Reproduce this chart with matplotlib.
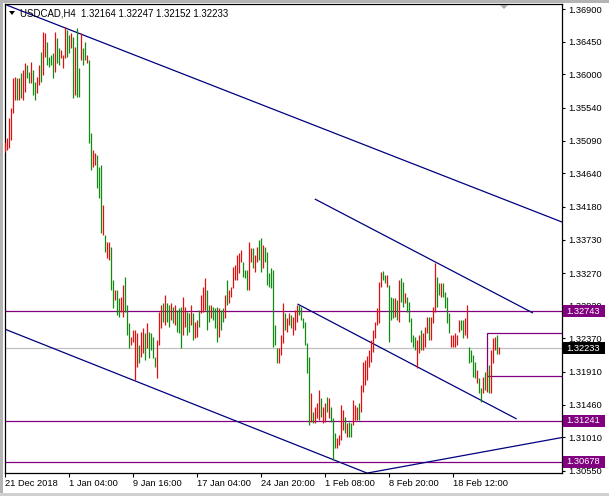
import matplotlib
matplotlib.use("Agg")
import matplotlib.pyplot as plt
from matplotlib.patches import Rectangle, Polygon
from matplotlib.transforms import blended_transform_factory

plt.rcParams['font.family'] = ['Liberation Sans', 'DejaVu Sans']

# ---------------- data ----------------
symbol = "USDCAD,H4"
last_ohlc = [1.32164, 1.32247, 1.32152, 1.32233]

highs = [
    1.35071, 1.35126, 1.35401, 1.35539, 1.35951, 1.35965, 1.35951, 1.35951, 1.36020, 1.36061,
    1.36158, 1.36130, 1.36034, 1.36171, 1.36061, 1.35896, 1.35965, 1.36130, 1.36309, 1.36584,
    1.36570, 1.36446, 1.36240, 1.36267, 1.36295, 1.36584, 1.36501, 1.36364, 1.36336, 1.36267,
    1.36652, 1.36611, 1.36542, 1.36570, 1.36515, 1.36377, 1.36639, 1.36089, 1.36570, 1.36364,
    1.36446, 1.36267, 1.36199, 1.35195, 1.34961, 1.34920, 1.34892, 1.34727, 1.34755, 1.34205,
    1.33793, 1.33696, 1.33696, 1.33628, 1.33174, 1.33036, 1.33036, 1.32926, 1.32940, 1.33105,
    1.33215, 1.32830, 1.32583, 1.32390, 1.32486, 1.32486, 1.32445, 1.32280, 1.32459, 1.32514,
    1.32445, 1.32583, 1.32459, 1.32445, 1.32390, 1.32115, 1.32349, 1.32734, 1.32830, 1.32858,
    1.32967, 1.32858, 1.32830, 1.32858, 1.32802, 1.32830, 1.32761, 1.32789, 1.32802, 1.32940,
    1.32802, 1.32734, 1.32720, 1.32830, 1.32720, 1.32596, 1.32624, 1.32761, 1.32967, 1.33078,
    1.33202, 1.33036, 1.32830, 1.32830, 1.32802, 1.32789, 1.32802, 1.32789, 1.32761, 1.32789,
    1.32967, 1.33174, 1.33036, 1.33078, 1.33353, 1.33380, 1.33518, 1.33545, 1.33586, 1.33421,
    1.33311, 1.33311, 1.33696, 1.33614, 1.33614, 1.33518, 1.33628, 1.33724, 1.33751, 1.33655,
    1.33628, 1.33559, 1.33270, 1.33339, 1.33311, 1.32555, 1.32239, 1.32239, 1.32418, 1.32858,
    1.32720, 1.32652, 1.32720, 1.32693, 1.32665, 1.32761, 1.32830, 1.32830, 1.32802, 1.32652,
    1.32596, 1.32308, 1.32115, 1.31620, 1.31359, 1.31428, 1.31483, 1.31661, 1.31551, 1.31428,
    1.31483, 1.31565, 1.31551, 1.31428, 1.31276, 1.31070, 1.31001, 1.31043, 1.31455, 1.31386,
    1.31290, 1.31208, 1.31221, 1.31208, 1.31524, 1.31455, 1.31428, 1.31483, 1.31730, 1.32046,
    1.32074, 1.32129, 1.32211, 1.32349, 1.32486, 1.32596, 1.32789, 1.33146, 1.33284, 1.33298,
    1.33243, 1.33243, 1.33105, 1.32940, 1.32926, 1.32926, 1.32899, 1.33174, 1.33202, 1.33146,
    1.32995, 1.32940, 1.32871, 1.32652, 1.32418, 1.32390, 1.32349, 1.32418, 1.32486, 1.32445,
    1.32527, 1.32665, 1.32665, 1.32665, 1.32802, 1.33408, 1.33215, 1.33133, 1.33133, 1.33133,
    1.33009, 1.32940, 1.32720, 1.32418, 1.32418, 1.32445, 1.32418, 1.32624, 1.32624, 1.32624,
    1.32652, 1.32830, 1.32253, 1.32211, 1.32143, 1.32046, 1.31936, 1.31826, 1.31689, 1.31840,
    1.31909, 1.31936, 1.32005, 1.32211, 1.32377, 1.32390, 1.32418, 1.32247,
]

lows = [
    1.34934, 1.34961, 1.34989, 1.35099, 1.35470, 1.35649, 1.35649, 1.35649, 1.35676, 1.35649,
    1.35759, 1.35951, 1.35882, 1.35882, 1.35717, 1.35649, 1.35745, 1.35855, 1.35896, 1.35992,
    1.36240, 1.36130, 1.36102, 1.36130, 1.35951, 1.36034, 1.36158, 1.36130, 1.36226, 1.36089,
    1.36226, 1.36240, 1.36295, 1.36364, 1.35676, 1.35717, 1.35690, 1.35690, 1.36199, 1.36130,
    1.36199, 1.36158, 1.35057, 1.34686, 1.34727, 1.34755, 1.34439, 1.34301, 1.33820, 1.33793,
    1.33559, 1.33476, 1.33449, 1.33036, 1.32789, 1.32899, 1.32693, 1.32665, 1.32734, 1.32665,
    1.32734, 1.32418, 1.32239, 1.32280, 1.32321, 1.31799, 1.31978, 1.32033, 1.32115, 1.32170,
    1.32074, 1.32239, 1.32101, 1.32211, 1.32101, 1.31978, 1.31826, 1.32280, 1.32514, 1.32596,
    1.32555, 1.32596, 1.32527, 1.32624, 1.32583, 1.32555, 1.32459, 1.32445, 1.32239, 1.32418,
    1.32527, 1.32418, 1.32459, 1.32555, 1.32349, 1.32377, 1.32390, 1.32527, 1.32720, 1.32734,
    1.32761, 1.32486, 1.32596, 1.32652, 1.32624, 1.32514, 1.32321, 1.32390, 1.32486, 1.32596,
    1.32652, 1.32830, 1.32858, 1.32940, 1.33064, 1.33174, 1.33174, 1.33270, 1.33421, 1.33215,
    1.33202, 1.33036, 1.33036, 1.33421, 1.33339, 1.33284, 1.33421, 1.33449, 1.33284, 1.33339,
    1.33421, 1.33105, 1.33078, 1.33064, 1.32253, 1.32280, 1.32033, 1.32033, 1.32143, 1.32308,
    1.32486, 1.32459, 1.32555, 1.32514, 1.32418, 1.32486, 1.32596, 1.32693, 1.32624, 1.32514,
    1.32280, 1.31895, 1.31180, 1.31221, 1.31208, 1.31208, 1.31276, 1.31249, 1.31290, 1.31208,
    1.31221, 1.31359, 1.31276, 1.31221, 1.30699, 1.30864, 1.30864, 1.30905, 1.30974, 1.31111,
    1.31070, 1.31015, 1.31015, 1.31015, 1.31180, 1.31249, 1.31249, 1.31249, 1.31359, 1.31634,
    1.31730, 1.31799, 1.31978, 1.32046, 1.32184, 1.32377, 1.32555, 1.32583, 1.33078, 1.33174,
    1.33133, 1.33078, 1.32321, 1.32624, 1.32652, 1.32665, 1.32624, 1.32596, 1.32871, 1.32802,
    1.32858, 1.32734, 1.32596, 1.32321, 1.32253, 1.32211, 1.31964, 1.32170, 1.32211, 1.32211,
    1.32253, 1.32445, 1.32349, 1.32349, 1.32583, 1.32734, 1.32802, 1.32967, 1.32940, 1.32940,
    1.32789, 1.32583, 1.32445, 1.32253, 1.32253, 1.32253, 1.32280, 1.32459, 1.32486, 1.32377,
    1.32418, 1.32377, 1.32033, 1.32046, 1.31840, 1.31826, 1.31758, 1.31620, 1.31496, 1.31620,
    1.31661, 1.31634, 1.31620, 1.31620, 1.32033, 1.32211, 1.32160, 1.32152,
]

# u = bar closed above its open (drawn red), d = closed below (drawn green)
direction = (
    "uuuuuududu" "uddudduudu" "uddddudduu" "uddududdud"
    "dudduudddu" "duuddudduu" "ddduuuuduu" "dudddduuud"
    "uddududddu" "udduduuduu" "uddudddudd" "uduuuuuuud"
    "dduuduuddu" "ddddddduuu" "duuduuuddd" "ddduduuudu"
    "ududdduuuu" "dudduuuduu" "uuuuuuuuud" "dudddududd"
    "uddddduudu" "uuduuuddud" "ddduuuuudd" "uudddduddu"
    "duduuudu"
)

date_labels = ["21 Dec 2018", "1 Jan 04:00", "9 Jan 16:00", "17 Jan 04:00",
               "24 Jan 20:00", "1 Feb 08:00", "8 Feb 20:00", "18 Feb 12:00"]
date_label_bars = [0, 32, 64, 96, 128, 160, 192, 224]

price_ticks = [1.36900, 1.36450, 1.36000, 1.35540, 1.35090, 1.34640, 1.34180,
               1.33730, 1.33270, 1.32820, 1.32370, 1.31910, 1.31460, 1.31010, 1.30550]

levels = [1.32743, 1.31241, 1.30678]
bid = last_ohlc[3]

# trend lines: (bar_start, price_start, bar_end, price_end)
trendlines = [
    (0.75, 1.36955, 278.25, 1.33971),
    (154.75, 1.34288, 263.75, 1.32720),
    (146.1, 1.32844, 255.6, 1.31263),
    (-0.25, 1.32500, 180.75, 1.30520),
    (179.75, 1.30513, 278.25, 1.31008),
]
# rectangle: (bar_start, price_low, price_high), extends past the right edge
box_start, box_low, box_high = 240.75, 1.31854, 1.32445

# ---------------- styling ----------------
UP = "#e01010"
DOWN = "#108c10"
PURPLE = "#800080"
NAVY = "#000080"
FS = 6.7

W, H = 609, 496
fig = plt.figure(figsize=(W / 100, H / 100), dpi=100)
fig.patch.set_facecolor("white")

ax_l, ax_r, ax_t, ax_b = 4.5, 562, 4, 473
ax = fig.add_axes([ax_l / W, 1 - ax_b / H, (ax_r - ax_l) / W, (ax_b - ax_t) / H])
ax.set_facecolor("white")

n = len(highs)
xs = list(range(n))
cols = [UP if d == "u" else DOWN for d in direction[:n]]
ax.vlines(xs, lows, highs, colors=cols, linewidth=0.9, zorder=3)

ax.set_xlim(-0.25, 278.25)
ax.set_ylim(1.30520, 1.36969)

for lv in levels:
    ax.axhline(lv, color=PURPLE, linewidth=0.9, zorder=2)
ax.axhline(bid, color="#c0c0c0", linewidth=0.9, zorder=1)

for (x0, p0, x1, p1) in trendlines:
    ax.plot([x0, x1], [p0, p1], color=NAVY, linewidth=0.9, zorder=2, solid_capstyle="butt")

ax.add_patch(Rectangle((box_start, box_low), 400, box_high - box_low,
                       fill=False, edgecolor=PURPLE, linewidth=0.9, zorder=2))

# axes style
for s in ax.spines.values():
    s.set_color("black")
    s.set_linewidth(0.9)

ax.yaxis.tick_right()
ax.set_yticks(price_ticks)
ax.set_yticklabels([f"{p:.5f}" for p in price_ticks])
ax.tick_params(axis="y", direction="out", length=2.5, width=0.8, pad=2.2,
               labelsize=FS, colors="black")

ax.set_xticks(date_label_bars)
ax.set_xticklabels(date_labels)
ax.tick_params(axis="x", direction="out", length=3, width=0.8, pad=1.5,
               labelsize=FS, colors="black")
for lbl in ax.get_xticklabels():
    lbl.set_horizontalalignment("left")

# price label boxes on the right scale
trans = blended_transform_factory(fig.transFigure, ax.transData)
bh = 12 * 0.0001375
for lv, bg in [(levels[0], PURPLE), (levels[1], PURPLE), (levels[2], PURPLE), (bid, "black")]:
    ax.add_patch(Rectangle((563 / W, lv - bh / 2), 42 / W, bh, transform=trans,
                           facecolor=bg, edgecolor="none", clip_on=False, zorder=6))
    ax.text(566 / W, lv, f"{lv:.5f}", transform=trans, color="white", fontsize=FS,
            va="center", ha="left", clip_on=False, zorder=7)

# header
fig.text(20 / W, 1 - 13 / H,
         f"{symbol}  " + " ".join(f"{v:.5f}" for v in last_ohlc),
         fontsize=6.9, va="center", ha="left", color="black")
fig.add_artist(Polygon([(9 / W, 1 - 11 / H), (15 / W, 1 - 11 / H), (12 / W, 1 - 15 / H)],
                       closed=True, facecolor="black", edgecolor="none",
                       transform=fig.transFigure))
# chart shift marker
fig.add_artist(Polygon([(500 / W, 1 - 5 / H), (508 / W, 1 - 5 / H), (504 / W, 1 - 9 / H)],
                       closed=True, facecolor="#a8a8a8", edgecolor="none",
                       transform=fig.transFigure))

# window frame strips
fig.add_artist(Rectangle((0, 0), 2.5 / W, 1, transform=fig.transFigure,
                         facecolor="#b4b4b4", edgecolor="none"))
fig.add_artist(Rectangle((0, 1 - 2.5 / H), 1, 2.5 / H, transform=fig.transFigure,
                         facecolor="#b4b4b4", edgecolor="none"))
fig.add_artist(Rectangle((0, 0), 1, 3 / H, transform=fig.transFigure,
                         facecolor="#d0d0d0", edgecolor="none"))

fig.savefig("out.png", dpi=100, facecolor="white")
